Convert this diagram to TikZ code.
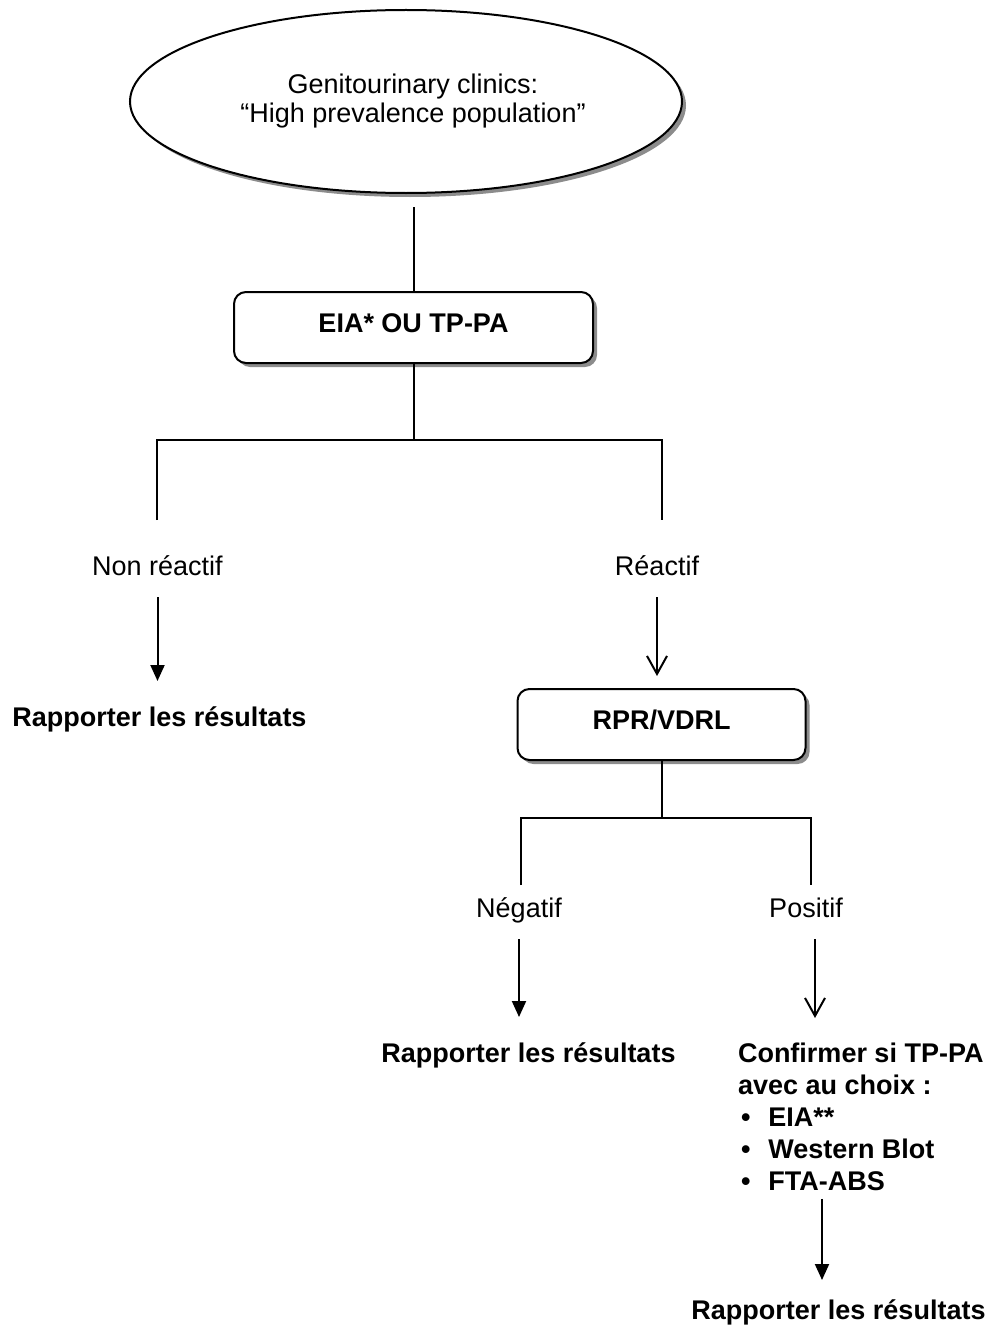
\documentclass[tikz,border=0pt]{standalone}
\usepackage{fontspec}
\setmainfont{Liberation Sans}
\usetikzlibrary{arrows.meta,shapes.geometric,shadows}

\begin{document}
\begin{tikzpicture}[x=0.5pt, y=-0.5pt, line width=1pt,
  font=\fontsize{13.5}{16}\selectfont,
  gras/.style={font=\fontsize{13.5}{16}\selectfont\bfseries},
  ombre/.style={drop shadow={shadow xshift=2pt, shadow yshift=-2pt, fill=black!45, opacity=1}},
  boite/.style={draw, fill=white, rounded corners=6pt, ombre, gras, inner sep=0pt, text height=20pt, text depth=15.5pt},
  etiquette/.style={inner sep=0pt, text height=10pt, text depth=3pt},
  plein/.style={-{Triangle[length=8pt, width=7pt]}, shorten <=7.5pt, shorten >=12pt},
  vide/.style={-{Straight Barb[length=9pt, width=10pt]}, shorten <=7.5pt, shorten >=12pt}]
\useasboundingbox (0,0) rectangle (987,1327);
\node [ellipse, draw, fill=white, ombre, minimum width=276pt, minimum height=91.5pt, inner sep=0pt, align=center] (clinique) at (406,101.5) {\hspace*{7pt}Genitourinary clinics:\\[-1.5pt]\hspace*{7pt}“High prevalence population”};
\node [boite, minimum width=179.5pt] (eia) at (413.5,327.5) {EIA* OU TP-PA};
\node [etiquette] (nonreac) at (157.5,568) {Non réactif};
\node [etiquette] (reac) at (657,568) {Réactif};
\node [etiquette, gras] (rapport1) at (159.5,719) {Rapporter les résultats};
\node [boite, minimum width=144pt] (rpr) at (661.5,724.5) {RPR/VDRL};
\node [etiquette] (negatif) at (519,910) {Négatif};
\node [etiquette] (positif) at (806,910) {Positif};
\node [etiquette, gras] (rapport2) at (528.5,1055) {Rapporter les résultats};
\node [gras, inner sep=0pt, align=left, anchor=north west] (confirmer) at (737,1042) {Confirmer si TP-PA\\avec au choix :\\\hspace*{1.5pt}\textbullet\hspace{9pt}EIA**\\\hspace*{1.5pt}\textbullet\hspace{9pt}Western Blot\\\hspace*{1.5pt}\textbullet\hspace{9pt}FTA-ABS};
\node [etiquette, gras] (rapport3) at (838.5,1312) {Rapporter les résultats};
\coordinate (j1) at (413.5,440);
\coordinate (g1) at (157,520);
\coordinate (d1) at (662,520);
\coordinate (j2) at (661.5,818);
\coordinate (g2) at (521,885);
\coordinate (d2) at (811,885);
\draw[shorten <=6.5pt] (eia.north |- clinique.south) -- (eia.north);
\draw (eia) -- (j1);
\draw (g1) |- (j1) -| (d1);
\draw (rpr) -- (j2);
\draw (g2) |- (j2) -| (d2);
\draw[plein] (nonreac.south) -- (nonreac.south |- rapport1.north);
\draw[vide, shorten >=6pt] (reac.south) -- (reac.south |- rpr.north);
\draw[plein] (negatif.south) -- (negatif.south |- rapport2.north);
\draw[vide] ([xshift=4.5pt]positif.south) -- ([xshift=4.5pt]positif.south |- confirmer.north);
\draw[plein, shorten <=3.5pt, shorten >=9pt] ([xshift=-8.25pt]rapport3.north |- confirmer.south) -- ([xshift=-8.25pt]rapport3.north);
\end{tikzpicture}
\end{document}
